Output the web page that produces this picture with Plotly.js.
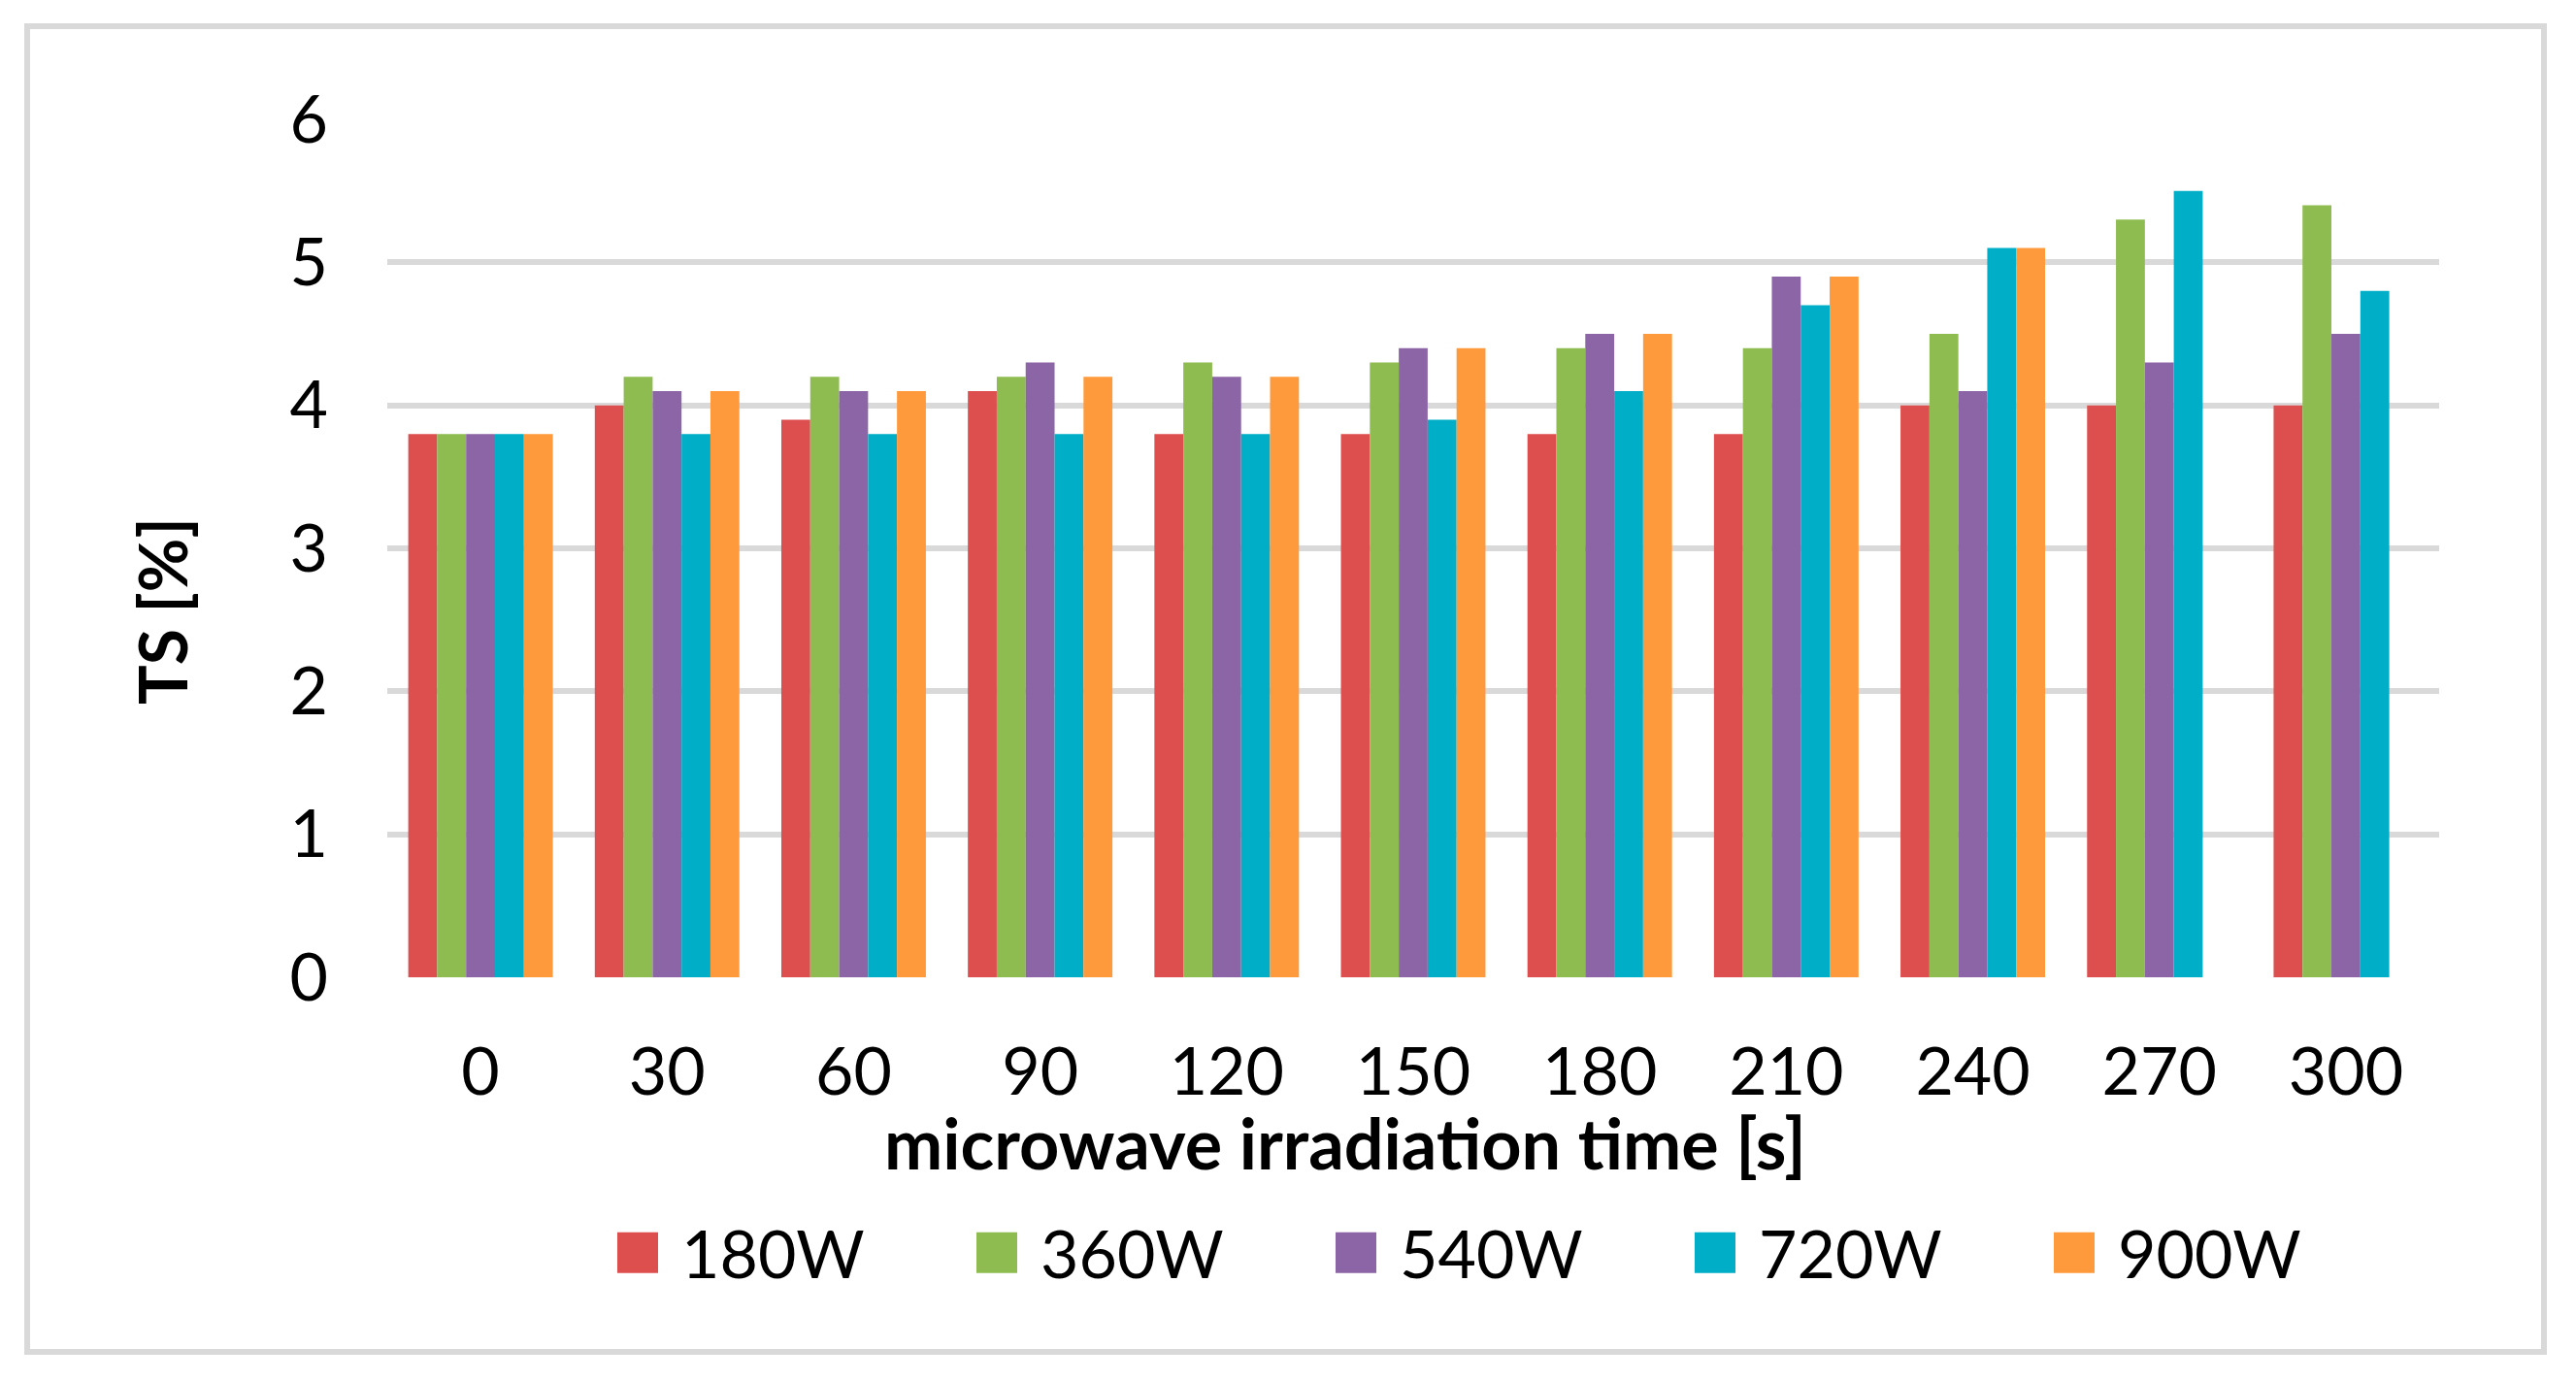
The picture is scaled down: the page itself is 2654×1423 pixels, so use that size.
<!DOCTYPE html>
<html><head><meta charset="utf-8">
<script src="https://cdn.plot.ly/plotly-3.0.1.min.js"></script>
<style>html,body{margin:0;padding:0;background:#fff;} #chart{width:2654px;height:1423px;}</style>
</head><body><div id="chart"></div>
<script>
// ---- data ----
const categories = ['0','30','60','90','120','150','180','210','240','270','300'];
const seriesNames = ['180W','360W','540W','720W','900W'];
const s180W = [3.8, 4.0, 3.9, 4.1, 3.8, 3.8, 3.8, 3.8, 4.0, 4.0, 4.0];
const s360W = [3.8, 4.2, 4.2, 4.2, 4.3, 4.3, 4.4, 4.4, 4.5, 5.3, 5.4];
const s540W = [3.8, 4.1, 4.1, 4.3, 4.2, 4.4, 4.5, 4.9, 4.1, 4.3, 4.5];
const s720W = [3.8, 3.8, 3.8, 3.8, 3.8, 3.9, 4.1, 4.7, 5.1, 5.5, 4.8];
const s900W = [3.8, 4.1, 4.1, 4.2, 4.2, 4.4, 4.5, 4.9, 5.1, null, null];
const yTickVals = [0, 1, 2, 3, 4, 5, 6];
const xTitle = 'microwave irradiation time [s]';
const yTitle = 'TS [%]';

// ---- style ----
const colors = ['#DD4F4E', '#8EBC50', '#8B65A5', '#00AEC7', '#FF9A3C'];
const FONT = 'Lato, "Open Sans", sans-serif';
const W = 2654, H = 1423;
const M = {l: 399, r: 141, t: 123, b: 416};
const PW = W - M.l - M.r, PH = H - M.t - M.b;
const px = x => (x - M.l) / PW;
const py = y => (H - M.b - y) / PH;

const allSeries = [s180W, s360W, s540W, s720W, s900W];
const traces = allSeries.map((vals, i) => ({
  type: 'bar',
  name: seriesNames[i],
  x: categories,
  y: vals,
  marker: {color: colors[i], line: {width: 0}},
  hoverinfo: 'x+y+name'
}));

const layout = {
  width: W, height: H, autosize: false,
  margin: {l: M.l, r: M.r, t: M.t, b: M.b, pad: 0},
  paper_bgcolor: '#fff', plot_bgcolor: '#fff',
  barmode: 'group', bargap: 0.225, bargroupgap: 0,
  font: {family: FONT, color: '#000'},
  xaxis: {
    type: 'category', showgrid: false, zeroline: false, showline: false,
    ticks: '', tickfont: {family: FONT, size: 68, color: '#000'},
    ticklabelstandoff: 52
  },
  yaxis: {
    range: [0, 6], tickvals: yTickVals, ticktext: yTickVals.map(String),
    showgrid: true, gridcolor: '#D9D9D9', gridwidth: 6,
    zeroline: false, showline: false, ticks: '',
    tickfont: {family: FONT, size: 68, color: '#000'},
    ticklabelstandoff: 60
  },
  showlegend: true,
  legend: {
    orientation: 'h', x: px(612), xanchor: 'left', y: py(1291), yanchor: 'middle',
    font: {family: FONT, size: 68, color: '#000'},
    itemwidth: 80, entrywidth: 275, entrywidthmode: 'pixels',
    bgcolor: 'rgba(0,0,0,0)', borderwidth: 0, traceorder: 'normal',
    itemclick: false, itemdoubleclick: false
  },
  annotations: [
    {text: xTitle, xref: 'paper', yref: 'paper', x: px(1386), y: py(1177),
     xanchor: 'center', yanchor: 'middle', showarrow: false,
     font: {family: FONT, size: 72, weight: 700, color: '#000'}},
    {text: yTitle, xref: 'paper', yref: 'paper', x: px(166), y: py(630),
     xanchor: 'center', yanchor: 'middle', showarrow: false, textangle: -90,
     font: {family: FONT, size: 68, weight: 700, color: '#000'}}
  ],
  shapes: [
    {type: 'rect', xref: 'paper', yref: 'paper', layer: 'above',
     x0: px(28), x1: px(2621), y0: py(1393), y1: py(27),
     line: {color: '#D9D9D9', width: 6}, fillcolor: 'rgba(0,0,0,0)'}
  ]
};

Plotly.newPlot('chart', traces, layout, {displayModeBar: false}).then(gd => {
  gd.querySelectorAll('.legend .legendpoints path').forEach(p => {
    p.setAttribute('d', 'M21,21H-21V-21H21Z');
  });
});
</script>
</body></html>
